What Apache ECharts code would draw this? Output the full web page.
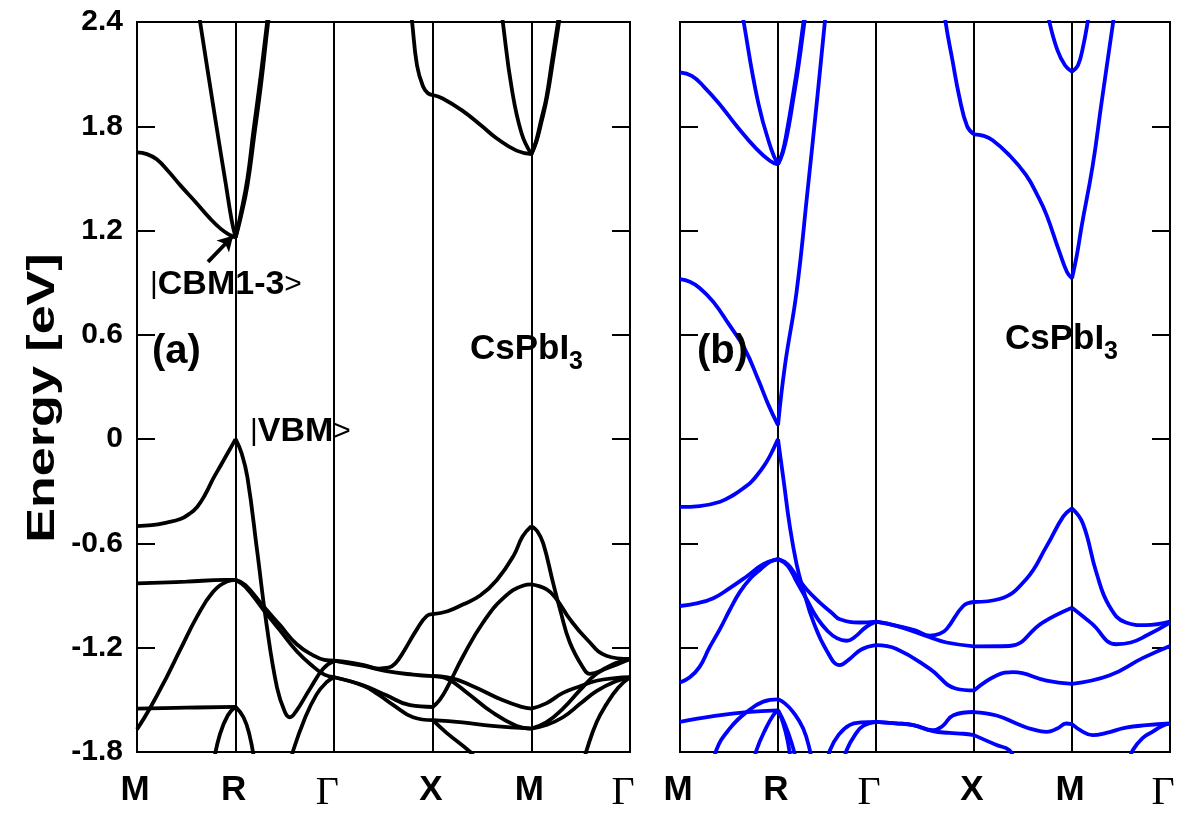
<!DOCTYPE html>
<html><head><meta charset="utf-8">
<script src="https://cdn.jsdelivr.net/npm/echarts@6/dist/echarts.min.js"></script>
<style>html,body{margin:0;padding:0;background:#fff}#c{width:1185px;height:813px}</style>
</head><body><div id="c"></div>
<script>
// k-path tick labels and energy ticks
const kLabels = ['M','R','Γ','X','M','Γ'];
const eLabels = ['-1.8','-1.2','-0.6','0','0.6','1.2','1.8','2.4'];

// ---- panel (a) : black bands, [k, E] ----
const aC1 = [[0,1.65],[0.1,1.64],[0.2,1.61],[0.32,1.54],[0.44,1.46],[0.6,1.36],[0.74,1.27],[0.85,1.21],[0.94,1.175],[1,1.16]];
const aC2 = [[0.6,2.55],[0.64,2.4],[0.8,1.82],[0.9,1.47],[0.96,1.26],[1,1.16]];
const aC3 = [[1,1.16],[1.05,1.29],[1.12,1.5],[1.18,1.77],[1.25,2.07],[1.32,2.4],[1.36,2.58]];
const aC4 = [[1,1.16],[1.05,1.27],[1.12,1.46],[1.19,1.75],[1.26,2.05],[1.33,2.4],[1.37,2.58]];
const aC5 = [[2.76,2.55],[2.79,2.4],[2.84,2.15],[2.9,2.03],[2.95,1.99],[3,1.98]];
const aC6 = [[3,1.98],[3.1,1.96],[3.3,1.89],[3.5,1.8],[3.65,1.73],[3.85,1.66],[4,1.64]];
const aC7 = [[3.68,2.55],[3.71,2.4],[3.8,2.02],[3.9,1.76],[4,1.64]];
const aC8 = [[4,1.64],[4.05,1.72],[4.1,1.84],[4.15,1.96],[4.21,2.18],[4.27,2.4],[4.31,2.55]];
const aC9 = [[4,1.64],[4.05,1.71],[4.1,1.82],[4.16,1.97],[4.22,2.18],[4.28,2.4],[4.32,2.55]];
const aV1 = [[0,-0.50],[0.15,-0.495],[0.3,-0.48],[0.44,-0.46],[0.53,-0.43],[0.61,-0.39],[0.69,-0.32],[0.77,-0.23],[0.85,-0.15],[0.91,-0.09],[0.96,-0.04],[1,0.0],
             [1.06,-0.08],[1.12,-0.22],[1.22,-0.65],[1.31,-1.05],[1.42,-1.43],[1.5,-1.57],[1.55,-1.60],[1.62,-1.56],[1.75,-1.44],[1.89,-1.32],[2,-1.275]];
const aV2 = [[0,-0.83],[0.5,-0.82],[0.9,-0.81],[1,-0.81],[1.1,-0.84],[1.28,-0.96],[1.45,-1.07],[1.62,-1.18],[1.79,-1.245],[1.9,-1.27],[2,-1.275]];
const aV3 = [[0,-1.67],[0.13,-1.55],[0.3,-1.37],[0.44,-1.21],[0.61,-1.02],[0.77,-0.88],[0.91,-0.82],[1,-0.81],[1.1,-0.85],[1.28,-0.98],[1.45,-1.10],[1.62,-1.22],[1.79,-1.31],[1.9,-1.355],[2,-1.37]];
const aV4 = [[0,-1.55],[0.5,-1.545],[1,-1.54]];
const aV5 = [[0.78,-1.85],[0.84,-1.7],[0.92,-1.59],[1,-1.54],[1.08,-1.6],[1.14,-1.7],[1.19,-1.85]];
const aV6 = [[1.56,-1.86],[1.585,-1.79],[1.7,-1.61],[1.82,-1.47],[1.92,-1.4],[2,-1.37]];
const aV7 = [[2,-1.275],[2.15,-1.285],[2.3,-1.30],[2.45,-1.32],[2.55,-1.315],[2.62,-1.29],[2.70,-1.226],[2.84,-1.093],[2.94,-1.017],[3,-1.007],[3.15,-0.99],[3.31,-0.95],[3.48,-0.90],[3.65,-0.81],[3.82,-0.67],[3.91,-0.56],[4,-0.50],[4.06,-0.53],[4.12,-0.60],[4.22,-0.827],[4.29,-0.979],[4.39,-1.17],[4.53,-1.32],[4.59,-1.35],[4.76,-1.32],[5,-1.265]];
const aV8 = [[2,-1.275],[2.15,-1.29],[2.3,-1.305],[2.53,-1.335],[2.8,-1.355],[3,-1.364],[3.15,-1.37],[3.4,-1.42],[3.7,-1.50],[3.9,-1.54],[4,-1.55],[4.15,-1.52],[4.32,-1.46],[4.5,-1.42],[4.66,-1.39],[4.85,-1.375],[5,-1.37]];
const aV9 = [[2,-1.37],[2.3,-1.417],[2.53,-1.474],[2.77,-1.531],[3,-1.541],[3.07,-1.50],[3.14,-1.436],[3.31,-1.246],[3.51,-1.055],[3.72,-0.912],[3.92,-0.842],[4,-0.836],[4.155,-0.865],[4.256,-0.922],[4.39,-1.036],[4.56,-1.15],[4.76,-1.246],[5,-1.265]];
const aV10 = [[2,-1.37],[2.3,-1.42],[2.45,-1.47],[2.6,-1.53],[2.8,-1.60],[3,-1.617],[3.3,-1.63],[3.6,-1.65],[4,-1.665],[4.15,-1.645],[4.32,-1.6],[4.5,-1.52],[4.66,-1.45],[4.85,-1.395],[5,-1.37]];
const aV11 = [[3,-1.364],[3.15,-1.38],[3.35,-1.46],[3.6,-1.57],[3.85,-1.65],[4,-1.665],[4.15,-1.63],[4.32,-1.55],[4.5,-1.44],[4.66,-1.35],[4.85,-1.29],[5,-1.265]];
const aV12 = [[3,-1.617],[3.14,-1.69],[3.38,-1.8],[3.45,-1.85]];
const aV13 = [[4.53,-1.86],[4.56,-1.79],[4.66,-1.63],[4.76,-1.526],[4.88,-1.43],[5,-1.37]];

// ---- panel (b) : blue bands ----
const bC1 = [[0,2.11],[0.12,2.09],[0.24,2.03],[0.4,1.93],[0.58,1.80],[0.78,1.67],[0.92,1.60],[1,1.58]];
const bC2 = [[0.62,2.52],[0.65,2.4],[0.8,1.93],[0.93,1.67],[1,1.58]];
const bC3 = [[1,1.58],[1.05,1.66],[1.09,1.77],[1.15,1.97],[1.2,2.15],[1.26,2.4],[1.29,2.52]];
const bC3b = [[1,1.58],[1.05,1.65],[1.1,1.77],[1.16,1.97],[1.21,2.15],[1.27,2.4],[1.3,2.52]];
const bC4 = [[0,0.92],[0.1,0.905],[0.2,0.87],[0.34,0.79],[0.5,0.66],[0.66,0.52],[0.8,0.34],[0.9,0.2],[1,0.08],
             [1.07,0.42],[1.19,0.85],[1.3,1.42],[1.4,1.96],[1.478,2.4],[1.5,2.52]];
const bC5 = [[2.69,2.52],[2.71,2.4],[2.78,2.18],[2.85,1.97],[2.93,1.8],[3,1.754]];
const bC6 = [[3,1.754],[3.1,1.745],[3.19,1.72],[3.35,1.64],[3.53,1.52],[3.65,1.4],[3.74,1.29],[3.87,1.08],[3.95,0.96],[4,0.925]];
const bC7 = [[4,0.925],[4.05,1.06],[4.1,1.23],[4.21,1.57],[4.3,1.93],[4.42,2.4],[4.45,2.52]];
const bC8 = [[3.74,2.52],[3.77,2.4],[3.85,2.24],[3.93,2.15],[4,2.115],[4.06,2.15],[4.11,2.25],[4.16,2.4],[4.19,2.52]];
const bV1 = [[0,-0.39],[0.2,-0.385],[0.41,-0.36],[0.55,-0.32],[0.64,-0.285],[0.72,-0.25],[0.79,-0.205],[0.85,-0.16],[0.9,-0.115],[0.95,-0.06],[1,0.0],
             [1.06,-0.25],[1.12,-0.5],[1.19,-0.72],[1.26,-0.87],[1.36,-1.05],[1.5,-1.22],[1.63,-1.30],[1.72,-1.27],[1.85,-1.21],[2,-1.185],[2.21,-1.207],[2.55,-1.322],[2.82,-1.436],[3,-1.446],[3.23,-1.36],[3.40,-1.341],[3.74,-1.389],[4,-1.408],[4.38,-1.36],[4.72,-1.26],[5,-1.19]];
const bV2 = [[0,-0.96],[0.17,-0.945],[0.34,-0.915],[0.5,-0.86],[0.68,-0.79],[0.85,-0.72],[1,-0.69],[1.1,-0.72],[1.19,-0.79],[1.3,-0.87],[1.427,-0.94],[1.55,-1.0],[1.631,-1.036],[1.835,-1.055],[2,-1.05],[2.21,-1.074],[2.4,-1.10],[2.55,-1.131],[2.65,-1.12],[2.72,-1.093],[2.89,-0.96],[3,-0.937],[3.26,-0.92],[3.53,-0.807],[3.74,-0.617],[3.91,-0.446],[4,-0.398],[4.11,-0.484],[4.25,-0.77],[4.38,-0.96],[4.55,-1.055],[4.75,-1.07],[5,-1.05]];
const bV3 = [[0,-1.40],[0.1,-1.37],[0.2,-1.31],[0.3,-1.2],[0.41,-1.09],[0.51,-0.98],[0.61,-0.88],[0.72,-0.8],[0.82,-0.75],[0.92,-0.705],[1,-0.69],[1.1,-0.73],[1.19,-0.82],[1.29,-0.92],[1.4,-1.03],[1.5,-1.1],[1.6,-1.145],[1.7,-1.16],[1.78,-1.14],[1.9,-1.08],[2,-1.05],[2.21,-1.074],[2.55,-1.14],[2.72,-1.17],[3,-1.192],[3.36,-1.19],[3.7,-1.055],[4,-0.97],[4.2,-1.06],[4.45,-1.18],[4.6,-1.17],[4.76,-1.13],[5,-1.055]];
const bV4 = [[0,-1.627],[0.34,-1.594],[0.68,-1.57],[1,-1.56]];
const bV5 = [[0.35,-1.86],[0.37,-1.79],[0.5,-1.67],[0.68,-1.57],[0.85,-1.51],[1,-1.497],[1.07,-1.52],[1.155,-1.57],[1.257,-1.665],[1.325,-1.79],[1.34,-1.86]];
const bV6 = [[0.76,-1.86],[0.78,-1.79],[0.88,-1.66],[0.95,-1.59],[1,-1.56],[1.05,-1.63],[1.1,-1.74],[1.13,-1.86]];
const bV7 = [[1,-1.56],[1.07,-1.64],[1.14,-1.75],[1.19,-1.86]];
const bV8 = [[1.51,-1.86],[1.53,-1.79],[1.62,-1.7],[1.73,-1.645],[1.85,-1.63],[2,-1.627]];
const bV9 = [[1.68,-1.86],[1.70,-1.79],[1.8,-1.69],[1.87,-1.65],[2,-1.627]];
const bV10 = [[2,-1.627],[2.2,-1.635],[2.38,-1.645],[2.58,-1.674],[2.68,-1.65],[2.79,-1.588],[3,-1.57],[3.23,-1.59],[3.45,-1.64],[3.6,-1.67],[3.74,-1.684],[3.85,-1.665],[3.94,-1.636],[4,-1.64],[4.1,-1.68],[4.21,-1.703],[4.35,-1.69],[4.55,-1.66],[4.76,-1.646],[5,-1.636]];
const bV11 = [[2,-1.627],[2.2,-1.635],[2.38,-1.645],[2.58,-1.68],[2.75,-1.69],[2.89,-1.695],[3,-1.703],[3.23,-1.76],[3.36,-1.79],[3.42,-1.86]];
const bV12 = [[4.58,-1.86],[4.62,-1.79],[4.72,-1.72],[4.82,-1.684],[4.92,-1.65],[5,-1.636]];

// arrow pointing at the CBM (panel a), [k, E]
const cbmArrow = [[0.72,1.02],[0.975,1.17]];

const bandsA = [aC1,aC2,aC3,aC4,aC5,aC6,aC7,aC8,aC9,aV1,aV2,aV3,aV4,aV5,aV6,aV7,aV8,aV9,aV10,aV11,aV12,aV13];
const bandsB = [bC1,bC2,bC3,bC3b,bC4,bC5,bC6,bC7,bC8,bV1,bV2,bV3,bV4,bV5,bV6,bV7,bV8,bV9,bV10,bV11,bV12];

// split each band at the high-symmetry points so every path segment is smoothed on its own
function segments(band){
  const out=[]; let cur=[band[0]];
  for(let i=1;i<band.length;i++){
    cur.push(band[i]);
    const k=band[i][0];
    if(Math.abs(k-Math.round(k))<1e-9 && i<band.length-1){ out.push(cur); cur=[band[i]]; }
  }
  out.push(cur); return out;
}

const FONT = 'Liberation Sans, Arial, sans-serif';
function xAx(gi){
  return {type:'value', gridIndex:gi, min:0, max:5, interval:1,
    axisLine:{show:false}, axisTick:{show:false},
    splitLine:{show:true, lineStyle:{color:'#000', width:2}},
    axisLabel:{show:true, margin:21, showMinLabel:true, showMaxLabel:true,
      formatter:v=>{const l=kLabels[Math.round(v)]; return l==='Γ' ? '{g|Γ}' : '{b|'+l+'}';},
      rich:{b:{fontFamily:FONT, fontWeight:'bold', fontSize:35, color:'#000', padding:[0,4,0,0]},
            g:{fontFamily:'Liberation Serif, DejaVu Serif, serif', fontWeight:'normal', fontSize:40, color:'#000', padding:[0,14,0,0]}}}};
}
function yAx(gi, pos, labels){
  return {type:'value', gridIndex:gi, position:pos, min:-1.8, max:2.4, interval:0.6,
    axisLine:{show:false}, splitLine:{show:false},
    axisTick:{show:true, inside:true, length:18, lineStyle:{color:'#000', width:2}},
    axisLabel:{show:labels, margin:14, color:'#000', fontFamily:FONT, fontWeight:'bold', fontSize:30,
      formatter:v=>eLabels[Math.round((v+1.8)/0.6)]}};
}
const series = [];
function addBands(bands, xi, yi, color){
  bands.forEach(b=>{
    segments(b).forEach(seg=>{
      series.push({type:'line', xAxisIndex:xi, yAxisIndex:yi, data:seg, showSymbol:false, smooth:0.45,
        lineStyle:{color, width:3.8}, silent:true, clip:true});
    });
  });
}
addBands(bandsA, 0, 0, '#000');
addBands(bandsB, 1, 2, '#0000ff');
series[0].markLine = {silent:true, symbol:['none','arrow'], symbolSize:[13,15], animation:false,
  lineStyle:{color:'#000', width:3.8, type:'solid'}, label:{show:false},
  data:[[{coord:cbmArrow[0]},{coord:cbmArrow[1]}]]};

const txt = (t,left,top,size)=>({type:'text', left, top, z:100,
  style:{text:t, font:'bold '+size+'px '+FONT, fill:'#000'}});
const ket = (t,left,top)=>({type:'text', left, top, z:100,
  style:{rich:{n:{font:'30px '+FONT, fill:'#000'}, b:{font:'bold 34px '+FONT, fill:'#000'}}, text:'{n||}{b|'+t+'}{n|>}'}});

const chart = echarts.init(document.getElementById('c'), null, {renderer:'canvas'});
chart.setOption({
  animation:false,
  backgroundColor:'#fff',
  grid:[
    {left:137, top:22, width:493, height:735, show:true, borderColor:'#000', borderWidth:2, backgroundColor:'transparent'},
    {left:680, top:22, width:490, height:735, show:true, borderColor:'#000', borderWidth:2, backgroundColor:'transparent'}
  ],
  xAxis:[xAx(0), xAx(1)],
  yAxis:[yAx(0,'left',true), yAx(0,'right',false), yAx(1,'left',false), yAx(1,'right',false)],
  series,
  graphic:[
    {type:'text', x:44, y:398, rotation:Math.PI/2, scaleX:1.37, z:100,
      style:{text:'Energy [eV]', font:'bold 38px '+FONT, fill:'#000', align:'center', verticalAlign:'middle'}},
    txt('(a)',152,332,40),
    txt('CsPbI',470,332,35),
    txt('3',569,350,25),
    ket('CBM1-3',150,268),
    ket('VBM',250,415),
    txt('(b)',697,332,40),
    txt('CsPbI',1005,322,35),
    txt('3',1104,340,25)
  ]
});
</script></body></html>
